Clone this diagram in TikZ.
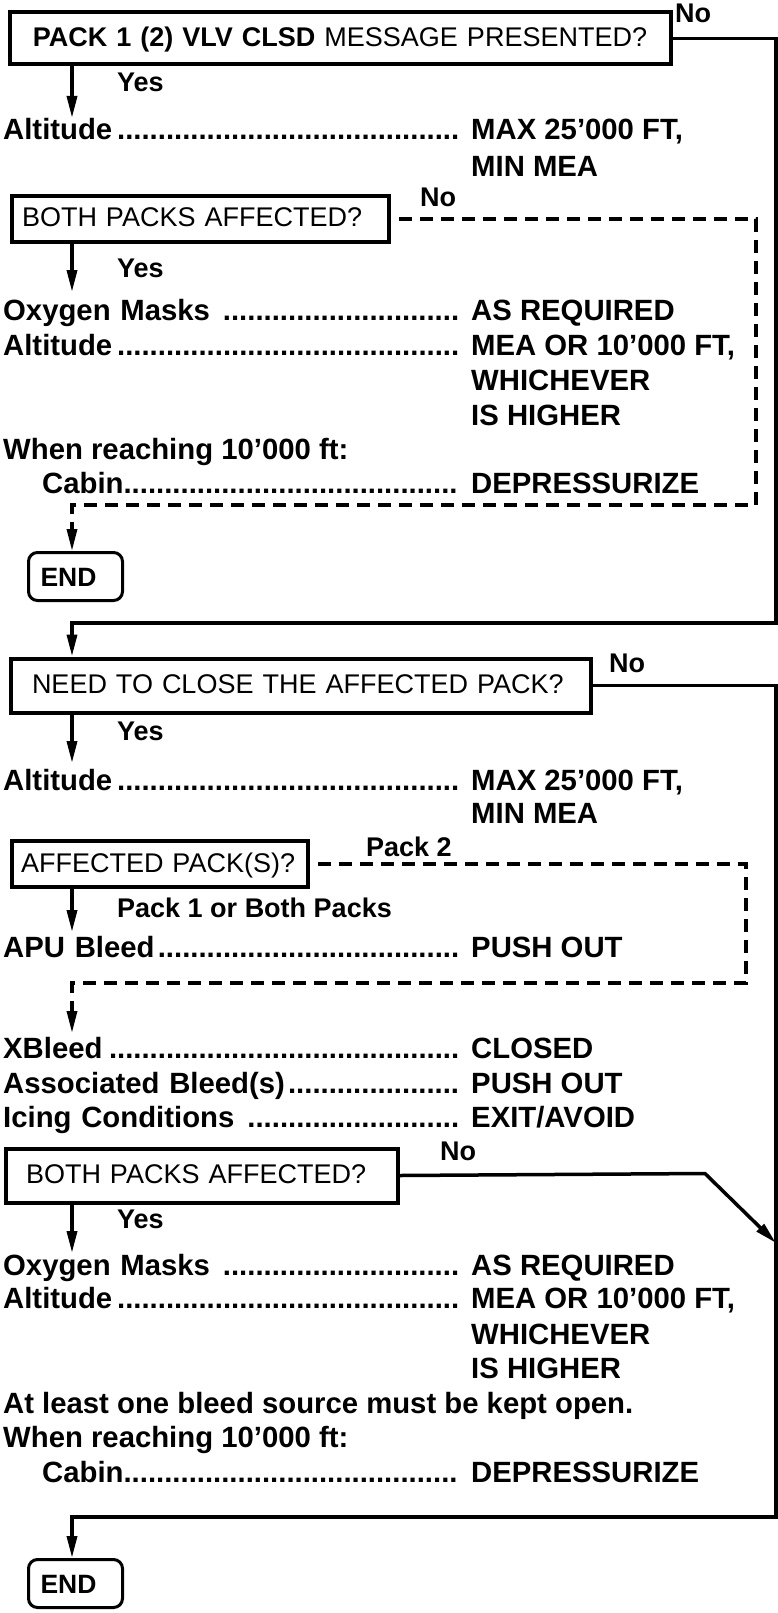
\documentclass[tikz,border=0pt]{standalone}
\usepackage{fontspec}
\setmainfont{Liberation Sans}
\usetikzlibrary{arrows.meta}

\newcommand{\dotrow}{\leaders\hbox{.}\hfill\null}

\tikzset{
  qbox/.style={draw, line width=4pt, anchor=north west, align=left, text height=18pt, text depth=2pt, font=\fontsize{27}{32}\selectfont},
  item/.style={anchor=base west, inner sep=0pt, font=\fontsize{29.3}{34}\selectfont\bfseries},
  tag/.style={anchor=base west, inner sep=0pt, font=\fontsize{27}{30}\selectfont\bfseries},
  endbox/.style={draw, line width=3pt, rounded corners=9pt, anchor=north west, align=left, inner xsep=12pt, text width=70pt, minimum height=48pt, text height=19pt, text depth=0pt, font=\fontsize{26.5}{30}\selectfont\bfseries},
  arr/.style={line width=3.5pt, -{Triangle[length=22pt,width=10pt]}},
  dsh/.style={line width=3.3pt, dash pattern=on 13pt off 8pt, -{Triangle[length=22pt,width=10pt]}},
}

\begin{document}
\begin{tikzpicture}[x=1pt, y=-1pt]
        \useasboundingbox (0,0) rectangle (778,1613);

        % columns used by the connectors
        \coordinate (spine) at (72,0);
        \coordinate (rail) at (776,0);

        % first question
        \node[qbox, align=center, inner xsep=10pt, text width=641pt, minimum height=52pt] (q1) at (7.5,10.5) {\textbf{PACK 1 (2) VLV CLSD} MESSAGE PRESENTED?};
        \node[tag] (no1) at (675,23) {No};
        \node[tag] (yes1) at (117,92) {Yes};
        \coordinate (t1) at (72,118);

        \node[item, text width=462pt] (alt1) at (3,140) {Altitude\dotrow};
        \node[item] (alt1v) at (471,140) {MAX 25’000 FT,};
        \node[item] (alt1w) at (471,177) {MIN MEA};

        % both packs, first branch
        \node[qbox, inner xsep=10pt, text width=357pt, minimum height=46pt] (q2) at (10,194) {BOTH PACKS AFFECTED?};
        \node[tag] (no2) at (420,207) {No};
        \node[tag] (yes2) at (117,277) {Yes};
        \coordinate (t2) at (72,292);

        \node[item, text width=462pt] (oxy1) at (3,320) {Oxygen Masks \dotrow};
        \node[item] (oxy1v) at (471,320) {AS REQUIRED};
        \node[item, text width=462pt] (alt2) at (3,355) {Altitude\dotrow};
        \node[item] (alt2v) at (471,355) {MEA OR 10’000 FT,};
        \node[item] (alt2w) at (471,390) {WHICHEVER};
        \node[item] (alt2x) at (471,425) {IS HIGHER};
        \node[item] (reach1) at (3,459) {When reaching 10’000 ft:};
        \node[item, text width=423pt] (cab1) at (42,493) {Cabin\dotrow};
        \node[item] (cab1v) at (471,493) {DEPRESSURIZE};

        \coordinate (d1) at (756,505);
        \node[endbox] (end1) at (27,551) {END};

        % close the affected pack
        \coordinate (r1) at (776,623);
        \node[qbox, inner xsep=21pt, text width=538pt, minimum height=54pt] (q3) at (9,656.5) {NEED TO CLOSE THE AFFECTED PACK?};
        \node[tag] (no3) at (609,672) {No};
        \node[tag] (yes3) at (117,740) {Yes};
        \coordinate (t3) at (72,763);

        \node[item, text width=462pt] (alt3) at (3,790) {Altitude\dotrow};
        \node[item] (alt3v) at (471,790) {MAX 25’000 FT,};
        \node[item] (alt3w) at (471,823) {MIN MEA};

        % which pack
        \node[qbox, inner xsep=9pt, text width=278pt, minimum height=46pt] (q4) at (10,839) {AFFECTED PACK(S)?};
        \node[tag] (pack2) at (366,856) {Pack 2};
        \node[tag] (pack1) at (117,917) {Pack 1 or Both Packs};
        \coordinate (t4) at (72,932);
        \node[item, text width=462pt] (apu) at (3,957) {APU Bleed\dotrow};
        \node[item] (apuv) at (471,957) {PUSH OUT};
        \coordinate (d2) at (746,983);
        \coordinate (t5) at (72,1033);

        \node[item, text width=462pt] (xbl) at (3,1058) {XBleed\dotrow};
        \node[item] (xblv) at (471,1058) {CLOSED};
        \node[item, text width=462pt] (asb) at (3,1093) {Associated Bleed(s)\dotrow};
        \node[item] (asbv) at (471,1093) {PUSH OUT};
        \node[item, text width=462pt] (ice) at (3,1127) {Icing Conditions \dotrow};
        \node[item] (icev) at (471,1127) {EXIT/AVOID};

        % both packs, second branch
        \node[qbox, inner xsep=20pt, text width=352pt, minimum height=54pt] (q5) at (4,1146.5) {BOTH PACKS AFFECTED?};
        \node[tag] (no5) at (440,1160) {No};
        \coordinate (b5) at (705,1173.5);
        \coordinate (h5) at (776,1243);
        \node[tag] (yes5) at (117,1228) {Yes};
        \coordinate (t6) at (72,1253);

        \node[item, text width=462pt] (oxy2) at (3,1275) {Oxygen Masks \dotrow};
        \node[item] (oxy2v) at (471,1275) {AS REQUIRED};
        \node[item, text width=462pt] (alt4) at (3,1308) {Altitude\dotrow};
        \node[item] (alt4v) at (471,1308) {MEA OR 10’000 FT,};
        \node[item] (alt4w) at (471,1344) {WHICHEVER};
        \node[item] (alt4x) at (471,1378) {IS HIGHER};
        \node[item] (keep) at (3,1413) {At least one bleed source must be kept open.};
        \node[item] (reach2) at (3,1447) {When reaching 10’000 ft:};
        \node[item, text width=423pt] (cab2) at (42,1482) {Cabin\dotrow};
        \node[item] (cab2v) at (471,1482) {DEPRESSURIZE};

        \coordinate (r2) at (776,1517);
        \node[endbox] (end2) at (27,1558) {END};

        % connectors
        \draw[arr] (q1.south -| spine) -- (t1);
        \draw[arr] (q1.east) -| (r1) -- (r1 -| spine) -- (q3.north -| spine);
        \draw[arr] (q2.south -| spine) -- (t2);
        \draw[dsh, shorten <=8pt] (q2.east) -| (d1) -- (d1 -| spine) -- (end1.north -| spine);
        \draw[arr] (q3.south -| spine) -- (t3);
        \draw[arr] (q3.east) -| (r2) -- (r2 -| spine) -- (end2.north -| spine);
        \draw[arr] (q4.south -| spine) -- (t4);
        \draw[dsh, shorten <=8pt] (q4.east) -| (d2) -- (d2 -| spine) -- (t5);
        \draw[arr] (q5.east) -- (b5) -- (h5);
        \draw[arr] (q5.south -| spine) -- (t6);
\end{tikzpicture}
\end{document}
